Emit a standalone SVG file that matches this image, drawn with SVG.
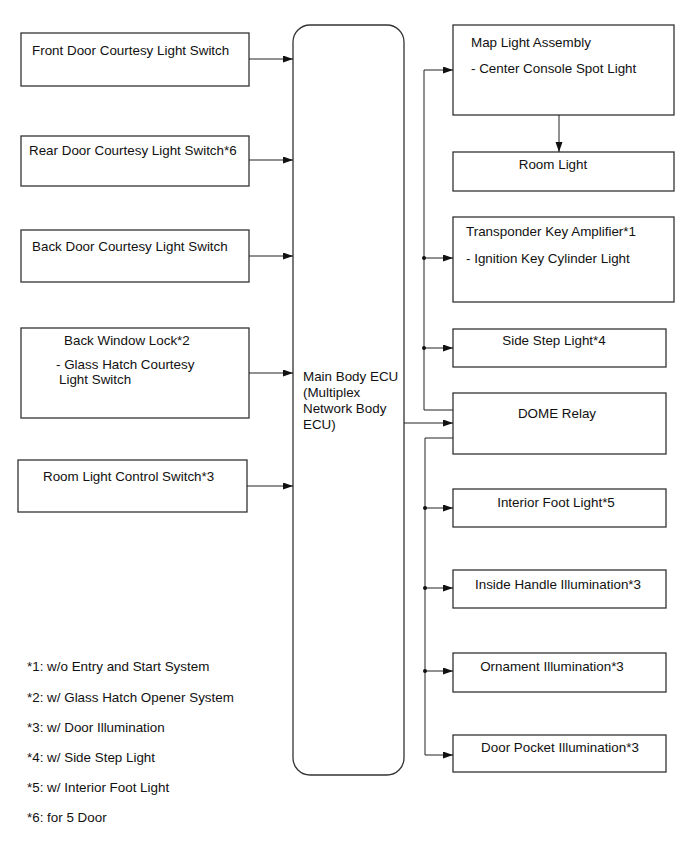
<svg xmlns="http://www.w3.org/2000/svg" width="689" height="853" viewBox="0 0 689 853">
<style>
  .box { fill: #fff; stroke: #333; stroke-width: 1.3; }
  .t { font-family: "Liberation Sans", Arial, sans-serif; font-size: 13.4px; fill: #111; }
  .c { text-anchor: middle; }
  .ln { fill: none; stroke: #222; stroke-width: 1; }
  .dot { fill: #111; }
</style>
<defs>
  <marker id="ah" markerUnits="userSpaceOnUse" markerWidth="11" markerHeight="8" refX="10" refY="3.5" orient="auto">
    <path d="M0,0 L10,3.5 L0,7 z" fill="#111"/>
  </marker>
</defs>
<rect width="689" height="853" fill="#fff"/>

<g id="front-door">
  <rect class="box" x="21" y="33" width="228" height="53"/>
  <text class="t" x="32" y="55">Front Door Courtesy Light Switch</text>
</g>
<g id="rear-door">
  <rect class="box" x="21" y="136" width="228" height="50"/>
  <text class="t" x="29" y="155">Rear Door Courtesy Light Switch*6</text>
</g>
<g id="back-door">
  <rect class="box" x="21" y="230" width="228" height="52"/>
  <text class="t" x="32" y="251">Back Door Courtesy Light Switch</text>
</g>
<g id="back-window">
  <rect class="box" x="21" y="328" width="228" height="90"/>
  <text class="t" x="64" y="345">Back Window Lock*2</text>
  <text class="t" x="56" y="369">- Glass Hatch Courtesy</text>
  <text class="t" x="59" y="384">Light Switch</text>
</g>
<g id="room-light-control">
  <rect class="box" x="18" y="460" width="229" height="52"/>
  <text class="t" x="43" y="481">Room Light Control Switch*3</text>
</g>

<g id="ecu">
  <rect class="box" x="293" y="25" width="111" height="750" rx="17" ry="17"/>
  <text class="t" x="303" y="381">Main Body ECU</text>
  <text class="t" x="303" y="397">(Multiplex</text>
  <text class="t" x="303" y="413">Network Body</text>
  <text class="t" x="303" y="429">ECU)</text>
</g>

<g id="map-light">
  <rect class="box" x="453" y="25" width="221" height="90"/>
  <text class="t" x="471" y="47">Map Light Assembly</text>
  <text class="t" x="471" y="73">- Center Console Spot Light</text>
</g>
<g id="room-light">
  <rect class="box" x="453" y="152" width="221" height="39"/>
  <text class="t c" x="553" y="169">Room Light</text>
</g>
<g id="transponder">
  <rect class="box" x="453" y="217" width="221" height="85"/>
  <text class="t" x="466" y="236">Transponder Key Amplifier*1</text>
  <text class="t" x="466" y="263">- Ignition Key Cylinder Light</text>
</g>
<g id="side-step">
  <rect class="box" x="453" y="329" width="213" height="38"/>
  <text class="t c" x="554" y="345">Side Step Light*4</text>
</g>
<g id="dome-relay">
  <rect class="box" x="453" y="393" width="213" height="61"/>
  <text class="t c" x="557" y="418">DOME Relay</text>
</g>
<g id="interior-foot">
  <rect class="box" x="453" y="489" width="213" height="38"/>
  <text class="t c" x="556" y="507">Interior Foot Light*5</text>
</g>
<g id="inside-handle">
  <rect class="box" x="453" y="570" width="213" height="38"/>
  <text class="t c" x="558" y="589">Inside Handle Illumination*3</text>
</g>
<g id="ornament">
  <rect class="box" x="453" y="653" width="213" height="39"/>
  <text class="t c" x="552" y="671">Ornament Illumination*3</text>
</g>
<g id="door-pocket">
  <rect class="box" x="453" y="735" width="213" height="37"/>
  <text class="t c" x="560" y="752">Door Pocket Illumination*3</text>
</g>

<g id="connectors">
  <line class="ln" x1="249" y1="59" x2="293" y2="59" marker-end="url(#ah)"/>
  <line class="ln" x1="249" y1="160" x2="293" y2="160" marker-end="url(#ah)"/>
  <line class="ln" x1="249" y1="256" x2="293" y2="256" marker-end="url(#ah)"/>
  <line class="ln" x1="249" y1="373" x2="293" y2="373" marker-end="url(#ah)"/>
  <line class="ln" x1="247" y1="486" x2="293" y2="486" marker-end="url(#ah)"/>

  <line class="ln" x1="404" y1="423" x2="453" y2="423" marker-end="url(#ah)"/>

  <polyline class="ln" points="453,410 424,410 424,70 453,70" marker-end="url(#ah)"/>
  <line class="ln" x1="424" y1="258" x2="453" y2="258" marker-end="url(#ah)"/>
  <line class="ln" x1="424" y1="348" x2="453" y2="348" marker-end="url(#ah)"/>
  <circle class="dot" cx="424" cy="258" r="2"/>
  <circle class="dot" cx="424" cy="348" r="2"/>

  <line class="ln" x1="559" y1="115" x2="559" y2="152" marker-end="url(#ah)"/>

  <polyline class="ln" points="453,438 425,438 425,755 453,755" marker-end="url(#ah)"/>
  <line class="ln" x1="425" y1="508" x2="453" y2="508" marker-end="url(#ah)"/>
  <line class="ln" x1="425" y1="588" x2="453" y2="588" marker-end="url(#ah)"/>
  <line class="ln" x1="425" y1="671" x2="453" y2="671" marker-end="url(#ah)"/>
  <circle class="dot" cx="425" cy="508" r="2"/>
  <circle class="dot" cx="425" cy="588" r="2"/>
  <circle class="dot" cx="425" cy="671" r="2"/>
</g>

<g id="footnotes">
  <text class="t" x="27" y="671">*1: w/o Entry and Start System</text>
  <text class="t" x="27" y="702">*2: w/ Glass Hatch Opener System</text>
  <text class="t" x="27" y="732">*3: w/ Door Illumination</text>
  <text class="t" x="27" y="762">*4: w/ Side Step Light</text>
  <text class="t" x="27" y="792">*5: w/ Interior Foot Light</text>
  <text class="t" x="27" y="822">*6: for 5 Door</text>
</g>
</svg>
